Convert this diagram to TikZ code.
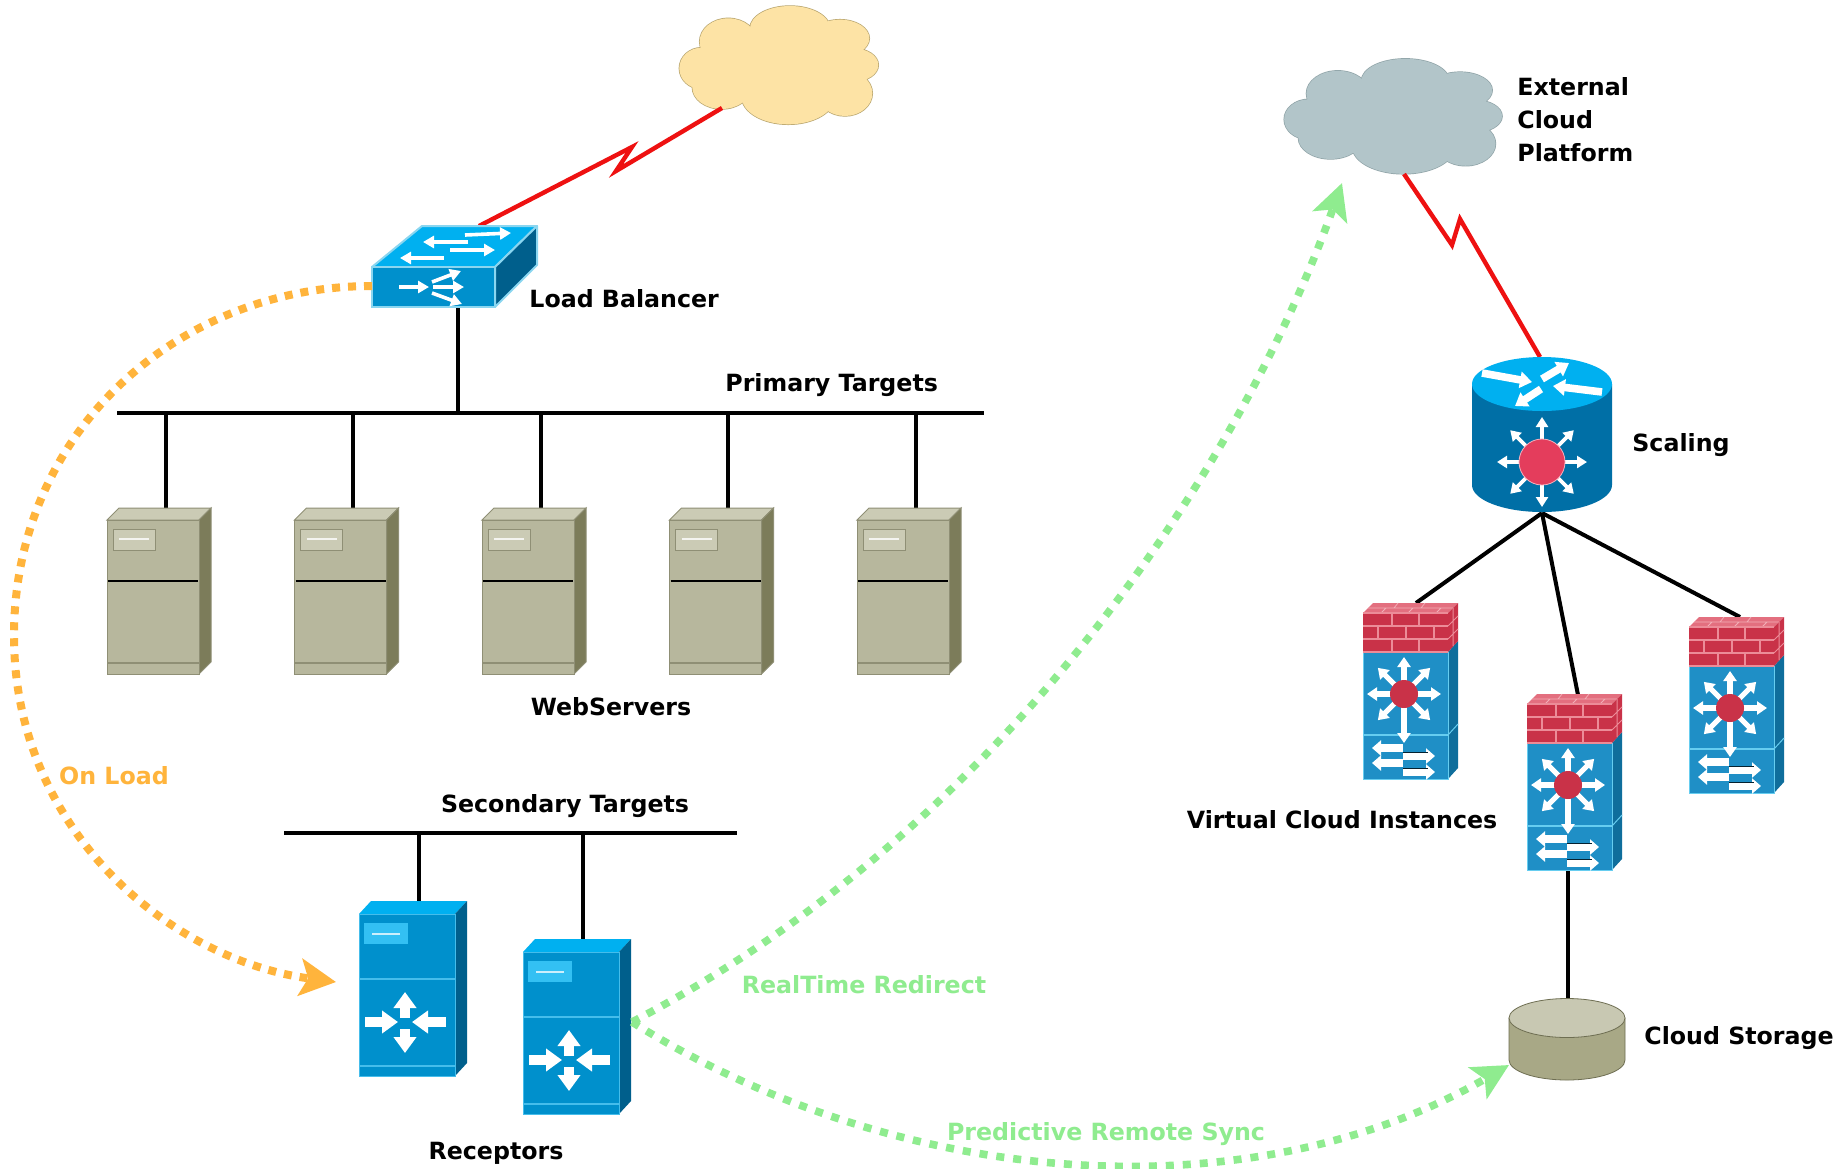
\documentclass[tikz,border=0pt]{standalone}
\usepackage{fontspec}
\setmainfont{DejaVu Sans}
\usetikzlibrary{arrows.meta}
\definecolor{tanF}{HTML}{B7B79D}
\definecolor{tanT}{HTML}{CBCBB5}
\definecolor{tanS}{HTML}{7C7C5A}
\definecolor{tanE}{HTML}{8F8F75}
\definecolor{bluF}{HTML}{0090CC}
\definecolor{bluT}{HTML}{00B0F0}
\definecolor{bluS}{HTML}{005F8C}
\definecolor{bluE}{HTML}{45BDEB}
\definecolor{lbE}{HTML}{8AD6F0}
\definecolor{fwF}{HTML}{1F8FC6}
\definecolor{fwS}{HTML}{0F6E9C}
\definecolor{fwE}{HTML}{66CDF0}
\definecolor{brick}{HTML}{C93248}
\definecolor{mortar}{HTML}{EC8C98}
\definecolor{brickT}{HTML}{E36F7F}
\definecolor{orangeL}{HTML}{FFB43C}
\definecolor{greenL}{HTML}{8FEC8F}
\definecolor{redL}{HTML}{EE1111}
\definecolor{cloudY}{HTML}{FDE3A5}
\definecolor{cloudYE}{HTML}{B8A56E}
\definecolor{cloudG}{HTML}{B2C5C9}
\definecolor{cloudGE}{HTML}{8FA3A7}
\definecolor{rtBody}{HTML}{006FA6}
\definecolor{rtRed}{HTML}{E43D5C}
\definecolor{stSide}{HTML}{A8A886}
\definecolor{stTopC}{HTML}{C8C8B2}
\definecolor{stEdge}{HTML}{6E6E52}
\newcommand{\cloudlobes}[1]{%
  \path[#1] (390,85) ellipse [x radius=120,y radius=67]
    (205,125) ellipse [x radius=86,y radius=70]
    (540,115) ellipse [x radius=88,y radius=56]
    (125,205) ellipse [x radius=67,y radius=62]
    (580,195) ellipse [x radius=75,y radius=50]
    (185,262) ellipse [x radius=88,y radius=65]
    (385,290) ellipse [x radius=140,y radius=83]
    (555,280) ellipse [x radius=82,y radius=68]
    (350,190) ellipse [x radius=200,y radius=110];}
\tikzset{
  wa/.style n args={3}{white,line width=#1,-{Triangle[length=#2,width=#3]}},
  link/.style={black,line width=2pt},
  zig/.style={redL,line width=2.2pt},
  lab/.style={font=\fontsize{11.85pt}{14pt}\bfseries\selectfont,text=black,inner sep=0pt},
  orangeflow/.style={orangeL,line width=4pt,dash pattern=on 4pt off 4pt,-{Stealth[length=18pt,width=18.5pt,inset=4pt]}},
  greenflow/.style={greenL,line width=3.8pt,dash pattern=on 4pt off 4.5pt,-{Stealth[length=18pt,width=18pt,inset=4pt]}},
  pics/webserver/.style={code={
    \fill[tanT,draw=tanE,line width=.5pt] (0,0) -- (12,-12) -- (104,-12) -- (92,0) -- cycle;
    \fill[tanS,draw=tanE,line width=.5pt] (92,0) -- (104,-12) -- (104,142) -- (92,154) -- cycle;
    \fill[tanF,draw=tanE,line width=.5pt] (0,0) rectangle (92,154);
    \fill[tanT,draw=tanE,line width=.3pt] (6,9) rectangle (48,30);
    \draw[white!85!tanF,line width=.6pt] (12,19) -- (42,19);
    \draw[black,line width=1.1pt] (1,61) -- (91,61);
    \draw[tanE,line width=.7pt] (0,143) -- (92,143);
  }},
  pics/receptor/.style={code={
    \fill[bluT] (0,0) -- (12,-13) -- (108,-13) -- (96,0) -- cycle;
    \fill[bluS] (96,0) -- (108,-13) -- (108,149) -- (96,162) -- cycle;
    \fill[bluF,draw=bluE,line width=.5pt] (0,0) rectangle (96,162);
    \fill[bluT!80!white] (5,9) rectangle (49,30);
    \draw[white!80!bluT,line width=.6pt] (13,20) -- (41,20);
    \draw[bluE,line width=.7pt] (0,65) -- (96,65);
    \draw[bluE,line width=.7pt] (0,152) -- (96,152);
    \draw[wa={5pt}{8pt}{11pt}] (6,108) -- (39,108);
    \draw[wa={5pt}{8pt}{11pt}] (87,108) -- (53,108);
    \draw[wa={5pt}{8pt}{11pt}] (46,104) -- (46,78);
    \draw[wa={5pt}{8pt}{11pt}] (46,115) -- (46,139);
  }},
  pics/firewall/.style={code={
    \fill[fwS] (85,39) -- (95,28) -- (95,155) -- (85,166) -- cycle;
    \draw[fwE,line width=.5pt] (85,122) -- (95,111);
    \fill[fwF,draw=fwE,line width=.5pt] (0,39) rectangle (85,166);
    \draw[fwE,line width=.6pt] (0,122) -- (85,122);
    \fill[brickT] (0,0) -- (10,-10) -- (95,-10) -- (85,0) -- cycle;
    \draw[mortar!70!white,line width=.4pt] (5,-5) -- (90,-5) (31,-5) -- (35,-10) (58,-5) -- (62,-10) (18,0) -- (23,-5) (45,0) -- (50,-5) (73,0) -- (78,-5);
    \fill[brick] (85,0) -- (95,-10) -- (95,28) -- (85,39) -- cycle;
    \draw[mortar,line width=.5pt] (85,13) -- (95,3) (85,26) -- (95,16) (90,-5) -- (90,33);
    \fill[brick] (0,0) rectangle (85,39);
    \draw[mortar,line width=.6pt] (0,0) -- (85,0) (0,13) -- (85,13) (0,26) -- (85,26) (0,39) -- (85,39)
      (29,0) -- (29,13) (56,0) -- (56,13) (15,13) -- (15,26) (43,13) -- (43,26) (71,13) -- (71,26) (29,26) -- (29,39) (56,26) -- (56,39);
    \coordinate (-c) at (41,81);
    \foreach \a in {0,45,135,180,225,315}
      \draw[wa={2.6pt}{5pt}{6.5pt}] (-c) -- ++(\a:37);
    \draw[wa={2.6pt}{5pt}{6.5pt}] (-c) -- ++(0,49);
    \draw[wa={2.6pt}{5pt}{6.5pt}] (-c) -- ++(0,-37);
    \fill[brick] (-c) circle [radius=14];
    \draw[wa={3.6pt}{4.5pt}{7.5pt}] (40,135) -- (9,135);
    \draw[wa={3.6pt}{4.5pt}{7.5pt}] (40,150) -- (9,150);
    \draw[wa={3.6pt}{4.5pt}{7.5pt}] (40,143) -- (72,143);
    \draw[wa={3.6pt}{4.5pt}{7.5pt}] (40,159) -- (72,159);
    \draw[black!70!fwS,line width=.5pt] (40,139) -- (65,139) (40,155) -- (65,155);
  }}
}
\begin{document}
\begin{tikzpicture}[x=0.5pt,y=-0.5pt]
\useasboundingbox (0,0) rectangle (1846,1168);
\fill[white] (0,0) rectangle (1846,1168);
\clip (0,0) rectangle (1846,1168);

% named anchors
\coordinate (lbLeft) at (372,286);
\coordinate (lbTop) at (479,226);
\coordinate (lbDown) at (458,307);
\coordinate (primA) at (117,413);
\coordinate (primB) at (984,413);
\coordinate (primLb) at (458,413);
\foreach \i/\x in {1/166,2/353,3/541,4/728,5/916}{
  \coordinate (pd\i) at (\x,413);
  \coordinate (ws\i) at (\x,509);
}
\coordinate (secA) at (284,833);
\coordinate (secB) at (737,833);
\coordinate (sd1) at (419,833);
\coordinate (sd2) at (583,833);
\coordinate (rc1) at (419,902);
\coordinate (rc2) at (583,940);
\coordinate (rcIn) at (336,982);
\coordinate (rcOut) at (632,1022);
\coordinate (rtTop) at (1540,357);
\coordinate (rtBot) at (1542,513);
\coordinate (fw1) at (1416,603);
\coordinate (fw2) at (1578,695);
\coordinate (fw3) at (1740,617);
\coordinate (fw2b) at (1568,871);
\coordinate (stTop) at (1568,999);
\coordinate (stIn) at (1509,1065);
\coordinate (yc) at (722,108);
\coordinate (gc) at (1404,174);
\coordinate (gcIn) at (1342,183);

% clouds
\begin{scope}[shift={(660,0)},scale=0.3333]
  \cloudlobes{draw=cloudYE,line width=.7pt}
  \cloudlobes{fill=cloudY}
\end{scope}
\begin{scope}[shift={(1263,53)},xscale=0.365,yscale=0.324]
  \cloudlobes{draw=cloudGE,line width=.7pt}
  \cloudlobes{fill=cloudG}
\end{scope}

% red links
\draw[zig] (yc) -- (616,171) -- (632,147) -- (lbTop);
\draw[zig] (gc) -- (1452,245) -- (1460,219) -- (rtTop);

% black links
\draw[link] (lbDown) -- (primLb);
\draw[link] (primA) -- (primB);
\foreach \i in {1,...,5} \draw[link] (pd\i) -- (ws\i);
\draw[link] (secA) -- (secB);
\draw[link] (sd1) -- (rc1);
\draw[link] (sd2) -- (rc2);
\draw[link] (rtBot) -- (fw1);
\draw[link] (rtBot) -- (fw2);
\draw[link] (rtBot) -- (fw3);
\draw[link] (fw2b) -- (stTop);

% load balancer
\fill[bluT,draw=lbE,line width=1pt,line join=round] (372,267) -- (422,226) -- (537,226) -- (495,267) -- cycle;
\fill[bluS,draw=lbE,line width=1pt,line join=round] (495,267) -- (537,226) -- (537,265) -- (495,307) -- cycle;
\fill[bluF,draw=lbE,line width=1pt] (372,267) rectangle (495,307);
\draw[wa={1.8pt}{5.5pt}{6pt}] (465,235) -- (511,233);
\draw[wa={1.8pt}{5.5pt}{6pt}] (468,242) -- (423,242);
\draw[wa={1.8pt}{5.5pt}{6pt}] (450,250) -- (495,250);
\draw[wa={1.8pt}{5.5pt}{6pt}] (444,258) -- (400,258);
\draw[wa={1.8pt}{5.5pt}{6pt}] (399,287) -- (429,287);
\draw[wa={1.8pt}{5.5pt}{6pt}] (432,282) -- (461,271);
\draw[wa={1.8pt}{5.5pt}{6pt}] (433,287) -- (464,287);
\draw[wa={1.8pt}{5.5pt}{6pt}] (432,293) -- (462,304);

% web servers
\foreach \i/\x in {1/107,2/294.5,3/482,4/669.5,5/857}
  \pic at (\x,520) {webserver};

% receptors
\pic at (359,914) {receptor};
\pic at (523,952) {receptor};

% scaling router
\fill[rtBody] (1472,384) -- (1472,485) arc [start angle=180,end angle=0,x radius=70,y radius=27] -- (1612,384) -- cycle;
\fill[bluT] (1542,384) ellipse [x radius=70,y radius=27];
\draw[wa={3.8pt}{6pt}{8pt}] (1482,373) -- (1532,382);
\draw[wa={3.8pt}{6pt}{8pt}] (1602,392) -- (1553,386);
\draw[wa={3.8pt}{6pt}{8pt}] (1541,389) -- (1515,406);
\draw[wa={3.8pt}{6pt}{8pt}] (1542,379) -- (1569,363);
\coordinate (rtC) at (1542,462);
\foreach \a in {0,45,90,135,180,225,270,315}
  \draw[wa={1.8pt}{5pt}{6pt}] (rtC) -- ++(\a:45);
\fill[rtRed,draw=white!60!rtRed,line width=.4pt] (rtC) circle [radius=23];

% firewalls
\pic at (1363,613) {firewall};
\pic at (1527,704) {firewall};
\pic at (1689,627) {firewall};

% storage
\fill[stSide,draw=stEdge,line width=.4pt] (1509,1018) -- (1509,1060) arc [start angle=180,end angle=0,x radius=58,y radius=20] -- (1625,1018) -- cycle;
\fill[stTopC,draw=stEdge,line width=.4pt] (1567,1018) ellipse [x radius=58,y radius=19.5];

% flows
\draw[orangeflow] (lbLeft) .. controls (180,286) and (14,430) .. (14,636) .. controls (14,830) and (170,960) .. (rcIn);
\draw[greenflow] (rcOut) .. controls (1000,830) and (1240,470) .. (gcIn);
\draw[greenflow] (rcOut) .. controls (900,1190) and (1250,1215) .. (stIn);

% labels
\node[lab,anchor=west] (tLb) at (529,299) {Load Balancer};
\node[lab,anchor=west] (tPrim) at (725,385) {Primary Targets};
\node[lab] (tWeb) at (611,707) {WebServers};
\node[lab] (tSec) at (565,806) {Secondary Targets};
\node[lab] (tRec) at (496,1153) {Receptors};
\node[lab,anchor=west] (tExt1) at (1517,87) {External};
\node[lab,anchor=west] (tExt2) at (1517,120) {Cloud};
\node[lab,anchor=west] (tExt3) at (1517,153) {Platform};
\node[lab,anchor=west] (tScale) at (1632,445) {Scaling};
\node[lab] (tVci) at (1342,820) {Virtual Cloud Instances};
\node[lab,anchor=west] (tStore) at (1644,1038) {Cloud Storage};
\node[lab,text=orangeL] (tLoad) at (114,776) {On Load};
\node[lab,text=greenL] (tRt) at (864,985) {RealTime Redirect};
\node[lab,text=greenL] (tPred) at (1106,1134) {Predictive Remote Sync};
\end{tikzpicture}
\end{document}
